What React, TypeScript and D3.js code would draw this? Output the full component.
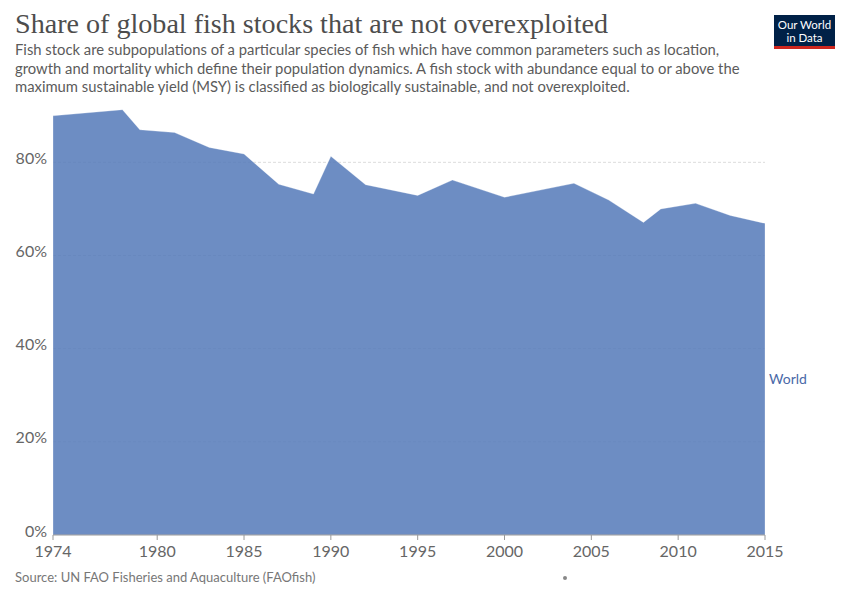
import React from 'react';
import * as d3 from 'd3';

// Share of fish stocks within biologically sustainable levels (World)
const years = [1974, 1978, 1979, 1981, 1983, 1985, 1987, 1989, 1990, 1992, 1995, 1997, 2000, 2004, 2006, 2008, 2009, 2011, 2013, 2015];
const shares = [90.0, 91.3, 87.0, 86.4, 83.2, 81.8, 75.3, 73.2, 81.3, 75.2, 72.9, 76.2, 72.5, 75.5, 71.9, 67.1, 70.0, 71.2, 68.6, 66.9];
const xTicks = [1974, 1980, 1985, 1990, 1995, 2000, 2005, 2010, 2015];
const yTicks = [0, 20, 40, 60, 80];

const title = "Share of global fish stocks that are not overexploited";
const subtitle = [
    "Fish stock are subpopulations of a particular species of fish which have common parameters such as location,",
    "growth and mortality which define their population dynamics. A fish stock with abundance equal to or above the",
    "maximum sustainable yield (MSY) is classified as biologically sustainable, and not overexploited.",
];
const source = "Source: UN FAO Fisheries and Aquaculture (FAOfish)";
const seriesName = "World";

export default function App() {
    const width = 850;
    const height = 600;
    const sans = "Lato, 'Noto Sans', sans-serif";

    const x = d3.scaleLinear().domain([1974, 2015]).range([53, 765]);
    const y = d3.scaleLinear().domain([0, 91.3]).range([535, 109.7]);

    const data = years.map((yr, i) => ({ yr, v: shares[i] }));

    const area = d3.area<{ yr: number; v: number }>()
        .x(d => x(d.yr))
        .y0(y(0))
        .y1(d => y(d.v));

    return (
        <svg width={width} height={height} style={{ position: 'absolute', left: 0, top: 0, background: '#fff' }}>
            {/* header */}
            <text x={15} y={33} fontFamily="'Liberation Serif', serif" fontSize={28} fill="#4d4d4d"
                textLength={593} lengthAdjust="spacingAndGlyphs">{title}</text>
            {subtitle.map((line, i) => (
                <text key={i} x={15} y={55 + i * 18.5} fontFamily={sans} fontSize={14.8} fill="#5b5b5b">{line}</text>
            ))}

            {/* logo */}
            <rect x={774} y={15} width={61} height={34} fill="#002147" />
            <rect x={774} y={46} width={61} height={3} fill="#ce261e" />
            <text x={804.5} y={29} textAnchor="middle" fontFamily={sans} fontSize={11.5} fill="#fff">Our World</text>
            <text x={804.5} y={42} textAnchor="middle" fontFamily={sans} fontSize={11.5} fill="#fff">in Data</text>

            {/* grid */}
            {yTicks.filter(t => t > 0).map(t => (
                <line key={t} x1={53} x2={765} y1={y(t)} y2={y(t)} stroke="#dddddd" strokeDasharray="3,2" />
            ))}

            {/* area */}
            <path d={area(data) ?? ''} fill="#5479b8" fillOpacity={0.85} stroke="#ffffff" strokeOpacity={0.35} strokeWidth={0.8} />

            {/* y axis labels */}
            {yTicks.map(t => (
                <text key={t} x={47} y={y(t) + 1.5} textAnchor="end" fontFamily={sans} fontSize={16} fill="#666">{t}%</text>
            ))}

            {/* x axis */}
            <line x1={53} x2={765} y1={535} y2={535} stroke="#999" />
            {xTicks.map(t => (
                <g key={t}>
                    <line x1={x(t)} x2={x(t)} y1={535} y2={540} stroke="#999" />
                    <text x={x(t)} y={557} textAnchor="middle" fontFamily={sans} fontSize={16} fill="#666">{t}</text>
                </g>
            ))}

            {/* series label */}
            <text x={769} y={384} fontFamily={sans} fontSize={14} fill="#4a69a8">{seriesName}</text>

            {/* footer */}
            <text x={15} y={582} fontFamily={sans} fontSize={13} fill="#777">{source}</text>
            <circle cx={565} cy={578} r={2} fill="#888" />
        </svg>
    );
}
